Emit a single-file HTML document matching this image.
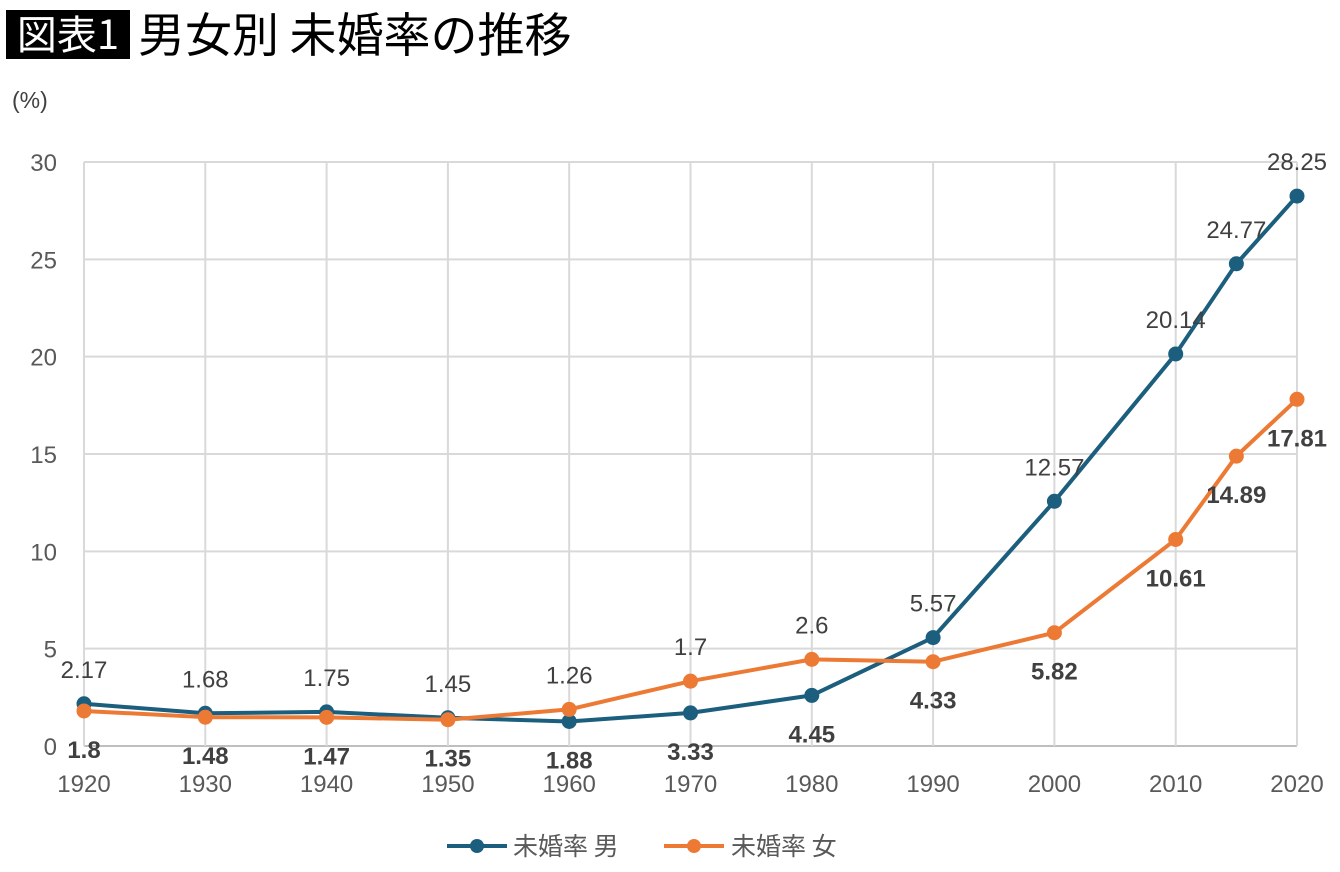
<!DOCTYPE html>
<html><head><meta charset="utf-8"><style>
body{margin:0;background:#fff;width:1340px;height:867px;overflow:hidden;font-family:"Liberation Sans","Noto Sans CJK JP",sans-serif}
</style></head><body>
<svg width="1340" height="867" xmlns="http://www.w3.org/2000/svg">
<rect x="6" y="10" width="124" height="49" fill="#000"/>
<text x="68" y="49" font-size="40" fill="#fff" text-anchor="middle" font-family="Noto Sans CJK JP,sans-serif">図表1</text>
<text x="138" y="52" font-size="47" fill="#000" font-family="Noto Sans CJK JP,sans-serif">男女別 未婚率の推移</text>
<text x="12" y="108" font-size="23" fill="#404040">(%)</text>
<g id="grid"></g><g id="series"></g><g id="labels"></g>
<g>
<line x1="447" y1="846" x2="507" y2="846" stroke="#1b5e7e" stroke-width="4"/><circle cx="477" cy="846" r="7" fill="#1b5e7e"/>
<text x="513" y="855" font-size="25" fill="#595959" font-family="Noto Sans CJK JP,sans-serif">未婚率 男</text>
<line x1="664" y1="846" x2="724" y2="846" stroke="#ec7a34" stroke-width="4"/><circle cx="694" cy="846" r="7" fill="#ec7a34"/>
<text x="731" y="855" font-size="25" fill="#595959" font-family="Noto Sans CJK JP,sans-serif">未婚率 女</text>
</g>
</svg>
<script>
const years=[1920,1930,1940,1950,1960,1970,1980,1990,2000,2010,2015,2020];
const male=[2.17,1.68,1.75,1.45,1.26,1.7,2.6,5.57,12.57,20.14,24.77,28.25];
const female=[1.8,1.48,1.47,1.35,1.88,3.33,4.45,4.33,5.82,10.61,14.89,17.81];
const yTicks=[0,5,10,15,20,25,30];
const xTicks=[1920,1930,1940,1950,1960,1970,1980,1990,2000,2010,2020];
const NS="http://www.w3.org/2000/svg";
const X=y=>84+(y-1920)*(1297-84)/100;
const Y=v=>746-v*(746-162)/30;
function mk(t,a,p,txt){const e=document.createElementNS(NS,t);for(const k in a)e.setAttribute(k,a[k]);if(txt!==undefined)e.textContent=txt;p.appendChild(e);return e;}
const g=document.getElementById('grid'),s=document.getElementById('series'),l=document.getElementById('labels');
yTicks.forEach(v=>{
 const ln=mk('line',{x1:84,x2:1297,y1:Y(v),y2:Y(v),stroke:v===0?'#bfbfbf':'#d9d9d9','stroke-width':2},g);
 
 
 const t=mk('text',{x:57,y:Y(v)+9,'font-size':24,fill:'#595959','text-anchor':'end'},g,v);
 
 
});
xTicks.forEach(y=>{
 const ln=mk('line',{x1:X(y),x2:X(y),y1:162,y2:746,stroke:'#d9d9d9','stroke-width':2},g);
 
 
 const t=mk('text',{x:X(y),y:792,'font-size':24,fill:'#595959','text-anchor':'middle'},g,y);
 
 
});
function series(vals,col,name){
 const p=mk('polyline',{points:vals.map((v,i)=>X(years[i])+','+Y(v)).join(' '),fill:'none',stroke:col,'stroke-width':4,'stroke-linejoin':'round'},s);
 
 
 vals.forEach((v,i)=>{
  const c=mk('circle',{cx:X(years[i]),cy:Y(v),r:7.5,fill:col},s);
  
  
 });
}
series(male,'#1b5e7e','male');
series(female,'#ec7a34','female');
years.forEach((yr,i)=>{
 const hi=Math.max(male[i],female[i]),lo=Math.min(male[i],female[i]);
 const t1=mk('text',{x:X(yr),y:Y(hi)-26,'font-size':24,fill:'#404040','text-anchor':'middle'},l,male[i]);
 
 
 const t2=mk('text',{x:X(yr),y:Y(lo)+47,'font-size':24,'font-weight':'bold',fill:'#404040','text-anchor':'middle'},l,female[i]);
 
 
});
</script>
</body></html>
